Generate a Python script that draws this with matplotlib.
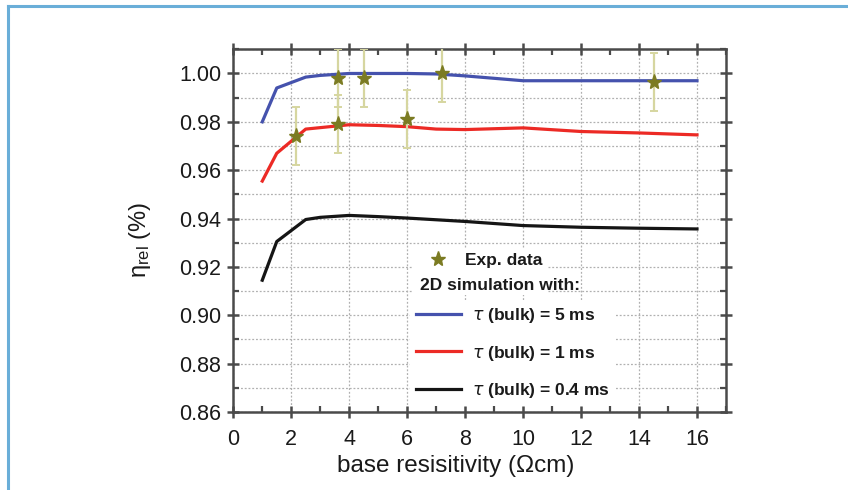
import matplotlib
matplotlib.use("Agg")
import matplotlib.pyplot as plt
from matplotlib.lines import Line2D
from matplotlib.ticker import MultipleLocator
import numpy as np

plt.rcParams['font.family'] = ['Liberation Sans', 'DejaVu Sans']

# ---- data ----
x_sim = [1.0, 1.5, 2.5, 3.0, 4.0, 5.0, 6.0, 7.0, 8.0, 10.0, 12.0, 14.0, 16.0]
eta_5ms = [0.980, 0.994, 0.9985, 0.9992, 1.000, 1.000, 1.000, 0.9998, 0.999, 0.997, 0.997, 0.997, 0.997]
eta_1ms = [0.9555, 0.967, 0.977, 0.9776, 0.9788, 0.9785, 0.978, 0.977, 0.9768, 0.9775, 0.976, 0.9754, 0.9746]
eta_04ms = [0.9145, 0.9305, 0.9396, 0.9405, 0.9413, 0.9408, 0.9402, 0.9395, 0.9388, 0.9371, 0.9364, 0.936, 0.9357]

x_exp = [2.15, 3.63, 3.63, 4.5, 6.0, 7.2, 14.5]
eta_exp = [0.974, 0.998, 0.979, 0.998, 0.981, 1.000, 0.9963]
err_exp = [0.012, 0.012, 0.012, 0.012, 0.012, 0.012, 0.012]

labels = ["Exp. data", "2D simulation with:",
          "$\\mathit{\\tau}$ (bulk) = 5 ms",
          "$\\mathit{\\tau}$ (bulk) = 1 ms",
          "$\\mathit{\\tau}$ (bulk) = 0.4 ms"]
xlabel = "base resisitivity (\u03a9cm)"
ylabel = "$\\mathregular{\u03b7_{rel}}$ (%)"

# ---- figure ----
fig = plt.figure(figsize=(8.48, 4.90), dpi=100)
ax = fig.add_axes([0.2751, 0.1592, 0.5810, 0.7402])

c_blue = '#4552ad'
c_red = '#ec2a25'
c_black = '#151515'
c_star = '#7b7b22'
c_err = '#d6d6a0'

l1, = ax.plot(x_sim, eta_5ms, color=c_blue, lw=2.3, zorder=3, solid_joinstyle='round')
l2, = ax.plot(x_sim, eta_1ms, color=c_red, lw=2.3, zorder=3, solid_joinstyle='round')
l3, = ax.plot(x_sim, eta_04ms, color=c_black, lw=2.3, zorder=3, solid_joinstyle='round')

ax.errorbar(x_exp, eta_exp, yerr=err_exp, fmt='none', ecolor=c_err, elinewidth=1.6,
            capsize=3, capthick=1.4, zorder=4)
st, = ax.plot(x_exp, eta_exp, linestyle='none', marker='*', markersize=11,
              color=c_star, markeredgecolor=c_star, zorder=5)

ax.set_xlim(0, 17)
ax.set_ylim(0.86, 1.01)
ax.xaxis.set_major_locator(MultipleLocator(2))
ax.xaxis.set_minor_locator(MultipleLocator(1))
ax.yaxis.set_major_locator(MultipleLocator(0.02))
ax.yaxis.set_minor_locator(MultipleLocator(0.01))
ax.yaxis.set_major_formatter(matplotlib.ticker.FormatStrFormatter('%.2f'))

ax.grid(True, which='major', axis='x', color='#b0b0b0', linestyle=(0, (1.5, 1.5)), lw=0.9)
ax.grid(True, which='both', axis='y', color='#b0b0b0', linestyle=(0, (1.5, 1.5)), lw=0.9)
ax.set_axisbelow(True)

for s in ax.spines.values():
    s.set_color('#4a4a4a')
    s.set_linewidth(1.8)

ax.tick_params(axis='both', which='major', direction='inout', length=9, width=1.8,
               color='#4a4a4a', labelsize=15.5, pad=4, top=True, right=True)
ax.tick_params(axis='both', which='minor', direction='in', length=4, width=1.6,
               color='#4a4a4a', top=True, right=True)
ax.tick_params(axis='x', which='major', pad=8)
for lab in ax.get_xticklabels() + ax.get_yticklabels():
    lab.set_color('#1a1a1a')

ax.set_xlabel(xlabel, fontsize=17.5, color='#1a1a1a')
ax.set_ylabel(ylabel, fontsize=17, color='#1a1a1a')
ax.xaxis.set_label_coords(0.452, -0.118)
ax.yaxis.set_label_coords(-0.162, 0.474)

# legends
blank = Line2D([], [], linestyle='none')
legA = ax.legend([st, blank], [labels[0], ""], loc='upper left',
                 bbox_to_anchor=(0.362, 0.452), frameon=True, fancybox=False,
                 framealpha=1, edgecolor='none', facecolor='white',
                 handlelength=2.4, handletextpad=0.35, labelspacing=0.35,
                 borderpad=0.3, borderaxespad=0,
                 prop={'weight': 'bold', 'size': 12.5})
ax.add_artist(legA)
legB = ax.legend([l1, l2, l3], labels[2:], loc='upper left',
                 bbox_to_anchor=(0.358, 0.309), frameon=True, fancybox=False,
                 framealpha=1, edgecolor='none', facecolor='white',
                 handlelength=2.6, handletextpad=0.65, labelspacing=1.07,
                 borderpad=0.35, borderaxespad=0,
                 prop={'weight': 'bold', 'size': 12.5})
ax.text(0.379, 0.350, labels[1], transform=ax.transAxes, fontsize=12.5,
        fontweight='bold', va='center', ha='left', color='#1a1a1a', zorder=10)
for t in legA.get_texts() + legB.get_texts():
    t.set_color('#1a1a1a')

# outer frame (light-blue border)
fig.add_artist(Line2D([0.0094, 1.0], [0.9878, 0.9878], transform=fig.transFigure,
                      color='#6aaed8', lw=2.2))
fig.add_artist(Line2D([0.0094, 0.0094], [0.0, 0.9878], transform=fig.transFigure,
                      color='#6aaed8', lw=2.2))

fig.savefig('out.png', dpi=100)
